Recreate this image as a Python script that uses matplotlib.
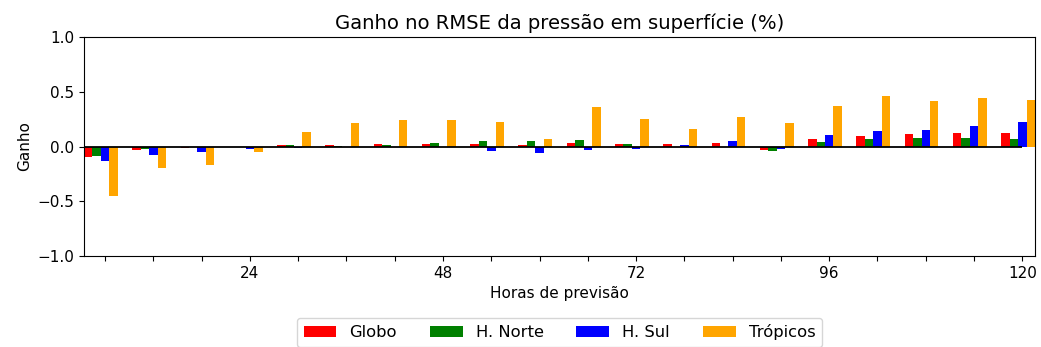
import matplotlib
matplotlib.use("Agg")
import matplotlib.pyplot as plt
import numpy as np

horas = [6, 12, 18, 24, 30, 36, 42, 48, 54, 60, 66, 72, 78, 84, 90, 96, 102, 108, 114, 120]

globo = [-0.10, -0.03, -0.012, 0.0, 0.01, 0.01, 0.02, 0.02, 0.02, 0.01,
         0.03, 0.02, 0.02, 0.03, -0.03, 0.067, 0.094, 0.112, 0.121, 0.121]
h_norte = [-0.09, -0.02, 0.0, 0.0, 0.01, 0.005, 0.01, 0.03, 0.048, 0.048,
           0.058, 0.02, 0.0, 0.0, -0.043, 0.04, 0.067, 0.076, 0.076, 0.067]
h_sul = [-0.134, -0.077, -0.05, -0.02, -0.013, 0.0, 0.0, 0.0, -0.043, -0.061,
         -0.034, -0.025, 0.01, 0.048, -0.022, 0.103, 0.14, 0.149, 0.185, 0.222]
tropicos = [-0.45, -0.195, -0.168, -0.05, 0.133, 0.213, 0.24, 0.24, 0.222, 0.067,
            0.359, 0.249, 0.158, 0.267, 0.213, 0.368, 0.459, 0.414, 0.441, 0.423]

series = [("Globo", globo, "red"),
          ("H. Norte", h_norte, "green"),
          ("H. Sul", h_sul, "blue"),
          ("Trópicos", tropicos, "orange")]

x = np.array(horas)
w = 1.05  # largura de cada barra em horas

fig = plt.figure(figsize=(10.41, 3.47), dpi=100)
ax = fig.add_axes([0.0807, 0.2622, 0.9135, 0.6312])

offsets = [-2, -1, 0, 1]
for (nome, vals, cor), k in zip(series, offsets):
    ax.bar(x + k * w, vals, width=w, color=cor, label=nome)

ax.hlines(0, 0, 120, color="k", linewidth=1.3)

ax.set_xlim(horas[0] - 2.5 * w, horas[-1] + 1.5 * w)
ax.set_ylim(-1, 1)
ax.set_yticks([-1, -0.5, 0, 0.5, 1])
ax.set_xticks(horas)
ax.set_xticklabels([str(h) if h % 24 == 0 else "" for h in horas])
ax.tick_params(labelsize=11)

ax.set_title("Ganho no RMSE da pressão em superfície (%)", fontsize=14.1)
ax.set_xlabel("Horas de previsão", fontsize=11)
ax.set_ylabel("Ganho", fontsize=11)

ax.legend(loc="upper center", bbox_to_anchor=(0.5, -0.245), ncol=4, fontsize=11.8)

fig.savefig("out.png", dpi=100)
